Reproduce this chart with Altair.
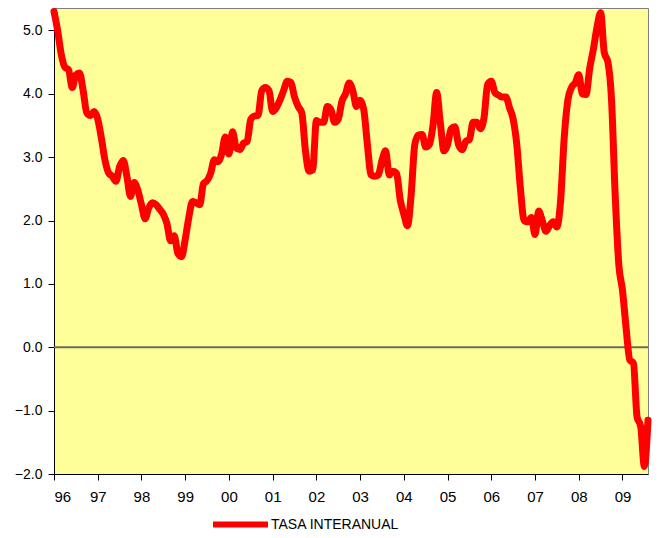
import altair as alt
import pandas as pd

# Monthly year-on-year rate, Jan 1996 .. Aug 2009
start_year = 1996
values = [
    5.30, 5.00, 4.62, 4.42, 4.38, 4.10, 4.30, 4.33, 4.05, 3.70, 3.66, 3.72,   # 1996
    3.60, 3.30, 2.95, 2.75, 2.70, 2.62, 2.85, 2.95, 2.70, 2.38, 2.60, 2.48,   # 1997
    2.25, 2.03, 2.20, 2.28, 2.25, 2.18, 2.10, 1.95, 1.68, 1.76, 1.48, 1.43,   # 1998
    1.70, 2.05, 2.30, 2.28, 2.25, 2.58, 2.63, 2.75, 2.96, 2.93, 3.05, 3.32,   # 1999
    3.05, 3.40, 3.15, 3.12, 3.22, 3.25, 3.60, 3.65, 3.66, 4.05, 4.10, 4.05,   # 2000
    3.72, 3.78, 3.90, 4.05, 4.20, 4.18, 3.95, 3.80, 3.70, 3.10, 2.78, 2.80,   # 2001
    3.58, 3.55, 3.55, 3.80, 3.75, 3.55, 3.60, 3.88, 4.00, 4.17, 4.05, 3.80,   # 2002
    3.90, 3.75, 3.20, 2.72, 2.70, 2.72, 2.95, 3.10, 2.72, 2.78, 2.75, 2.33,   # 2003
    2.10, 1.92, 2.40, 3.20, 3.35, 3.36, 3.16, 3.20, 3.50, 4.02, 3.55, 3.10,   # 2004
    3.20, 3.45, 3.48, 3.20, 3.12, 3.25, 3.28, 3.55, 3.55, 3.45, 3.62, 4.15,   # 2005
    4.20, 4.02, 3.98, 3.95, 3.95, 3.78, 3.60, 3.20, 2.50, 2.00, 1.98, 2.05,   # 2006
    1.78, 2.15, 2.00, 1.83, 1.92, 1.98, 1.90, 2.30, 3.30, 3.90, 4.10, 4.17,   # 2007
    4.30, 4.00, 3.99, 4.40, 4.70, 5.05, 5.28, 4.65, 4.50, 3.90, 2.40, 1.30,   # 2008
    0.90, 0.30, -0.20, -0.25, -1.10, -1.25, -1.88, -1.15,                     # 2009
]
series_name = "TASA INTERANUAL"
year_ticks = list(range(1996, 2010))
y_ticks = [-2, -1, 0, 1, 2, 3, 4, 5]

df = pd.DataFrame({
    "t": [start_year + i / 12 for i in range(len(values))],
    "v": values,
    "serie": [series_name] * len(values),
})
zero_df = pd.DataFrame({"v": [0]})

FONT = "Liberation Sans"
x_dom = [start_year, start_year + (len(values) - 1) / 12]

x = alt.X(
    "t:Q",
    scale=alt.Scale(domain=x_dom, nice=False, zero=False),
    axis=alt.Axis(values=year_ticks, labelExpr="substring(toString(datum.value), 2)",
                  title=None, grid=False, tickSize=6, labelPadding=9, labelFontSize=15),
)
y = alt.Y(
    "v:Q",
    scale=alt.Scale(domain=[-2, 5.355], nice=False, zero=False),
    axis=alt.Axis(values=y_ticks, format=".1f", title=None, grid=False,
                  tickSize=6, labelPadding=6),
)

zero_rule = alt.Chart(zero_df).mark_rule(color="#6b6b5a", strokeWidth=2).encode(y=alt.Y("v:Q"))

line = alt.Chart(df).mark_line(
    strokeWidth=7, interpolate="monotone", strokeCap="round", strokeJoin="round"
).encode(
    x=x,
    y=y,
    color=alt.Color(
        "serie:N",
        scale=alt.Scale(domain=[series_name], range=["#FF0000"]),
        legend=alt.Legend(
            title=None, orient="none", legendX=156, legendY=486, padding=0,
            symbolType="stroke", symbolSize=3025, symbolStrokeWidth=6,
            labelOffset=0, labelFontSize=14, labelFont=FONT, labelColor="black",
        ),
    ),
)

chart = alt.layer(zero_rule, line).properties(
    width=594, height=466,
    autosize=alt.AutoSizeParams(type="none"),
    padding={"left": 46, "top": 0, "right": 4, "bottom": 60},
).configure_view(
    fill="#FFFF99", stroke="#808080", strokeWidth=1
).configure_axis(
    domainColor="black", tickColor="black", labelColor="black",
    labelFont=FONT, labelFontSize=14, domainWidth=1, tickWidth=1,
)

chart.save("out.html", embed_options={"renderer": "svg", "actions": False})
